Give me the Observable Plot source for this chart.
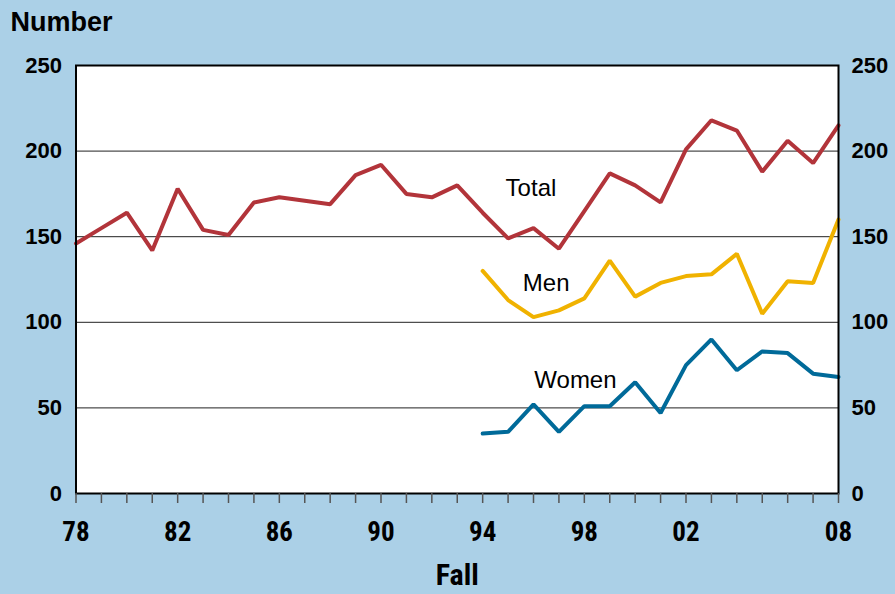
<!DOCTYPE html>
<html>
<head>
<meta charset="utf-8">
<script src="https://cdn.jsdelivr.net/npm/d3@7"></script>
<script src="https://cdn.jsdelivr.net/npm/@observablehq/plot@0.6"></script>
<style>
  html, body { margin: 0; padding: 0; background: #abd0e7; }
  #chart { width: 895px; height: 594px; }
</style>
</head>
<body>
<div id="chart"></div>
<script>
// Years (fall)
const totalYears = [1978,1979,1980,1981,1982,1983,1984,1985,1986,1987,1988,1989,1990,1991,1992,1993,1994,1995,1996,1997,1998,1999,2000,2001,2002,2003,2004,2005,2006,2007,2008];
const totalValues = [146,155,164,142,178,154,151,170,173,171,169,186,192,175,173,180,164,149,155,143,165,187,180,170,201,218,212,188,206,193,215];

const genderYears = [1994,1995,1996,1997,1998,1999,2000,2001,2002,2003,2004,2005,2006,2007,2008];
const menValues = [130,113,103,107,114,136,115,123,127,128,140,105,124,123,160];
const womenValues = [35,36,52,36,51,51,65,47,75,90,72,83,82,70,68];

const yTicks = [0,50,100,150,200,250];
const xLabelYears = [1978,1982,1986,1990,1994,1998,2002,2008];
const xLabelText = ["78","82","86","90","94","98","02","08"];

const seriesNames = ["Total","Men","Women"];
const seriesColors = ["#b2343a","#f0b200","#006a99"];
const labelYear = [1995.9, 1996.5, 1997.65];
const labelValue = [178.5, 123, 66];

const totalData = totalYears.map((y,i) => ({year: y, value: totalValues[i]}));
const menData = genderYears.map((y,i) => ({year: y, value: menValues[i]}));
const womenData = genderYears.map((y,i) => ({year: y, value: womenValues[i]}));
const labelData = seriesNames.map((s,i) => ({name: s, year: labelYear[i], value: labelValue[i]}));

const mainFont = "'Liberation Sans', Arial, sans-serif";
const narrowFont = "'Roboto Condensed', 'Liberation Sans', sans-serif";

const chart = Plot.plot({
  width: 895,
  height: 594,
  marginLeft: 75.5,
  marginRight: 57,
  marginTop: 65,
  marginBottom: 101,
  style: {background: "#abd0e7", fontFamily: mainFont, overflow: "visible"},
  x: {domain: [1978, 2008]},
  y: {domain: [0, 250]},
  marks: [
    Plot.frame({fill: "white", stroke: null}),
    Plot.ruleY([50,100,150,200], {stroke: "#222", strokeWidth: 1}),
    Plot.lineY(totalData, {x: "year", y: "value", stroke: seriesColors[0], strokeWidth: 4, strokeLinejoin: "miter"}),
    Plot.lineY(menData, {x: "year", y: "value", stroke: seriesColors[1], strokeWidth: 4, strokeLinejoin: "miter"}),
    Plot.lineY(womenData, {x: "year", y: "value", stroke: seriesColors[2], strokeWidth: 4, strokeLinejoin: "miter"}),
    Plot.frame({stroke: "black", strokeWidth: 2}),
    Plot.axisY({anchor: "left", ticks: yTicks, tickSize: 0, tickPadding: 14, fontSize: 22, fontWeight: "bold", fontFamily: mainFont, fill: "black", label: null}),
    Plot.axisY({anchor: "right", ticks: yTicks, tickSize: 0, tickPadding: 13, fontSize: 22, fontWeight: "bold", fontFamily: mainFont, fill: "black", label: null}),
    Plot.axisX({ticks: totalYears, tickSize: 10, text: null, stroke: "#555", strokeWidth: 1.5, label: null}),
    Plot.axisX({ticks: xLabelYears, tickSize: 0, tickPadding: 28, tickFormat: d => xLabelText[xLabelYears.indexOf(d)], fontSize: 27, fontWeight: "bold", fontFamily: narrowFont, fill: "black", label: null}),
    Plot.text(labelData, {x: "year", y: "value", text: "name", fontSize: 24, fill: "black", fontFamily: mainFont}),
    Plot.text(["Number"], {frameAnchor: "top-left", dx: -65.5, dy: -43, textAnchor: "start", lineAnchor: "middle", fontSize: 27, fontWeight: "bold", fontFamily: mainFont, fill: "black"}),
    Plot.text(["Fall"], {frameAnchor: "bottom", dy: 82, lineAnchor: "middle", fontSize: 30, fontWeight: "bold", fontFamily: narrowFont, fill: "black"})
  ]
});
document.getElementById("chart").appendChild(chart);
</script>
</body>
</html>
